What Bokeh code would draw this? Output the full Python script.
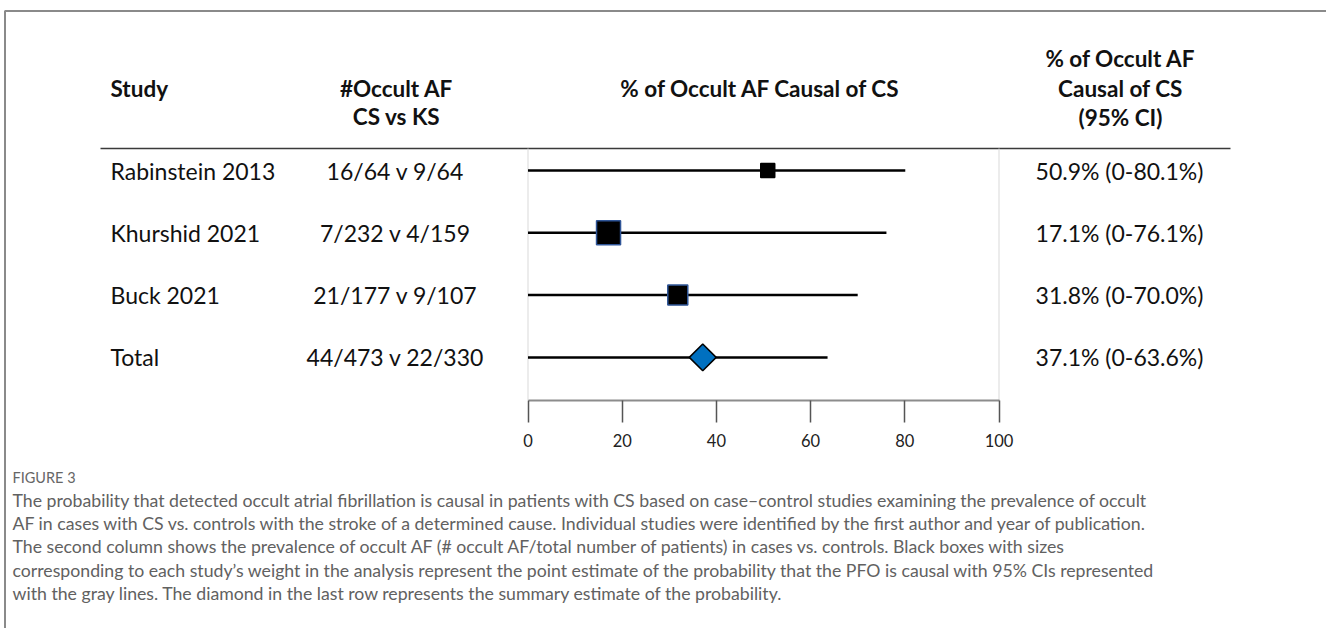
import numpy as np
from bokeh.plotting import figure
from bokeh.models import Range1d, LinearAxis, FixedTicker
from bokeh.core.properties import value
from bokeh.embed import file_html
from bokeh.resources import INLINE

# ---------------- data ----------------
studies = ["Rabinstein 2013", "Khurshid 2021", "Buck 2021", "Total"]
counts = ["16/64 v 9/64", "7/232 v 4/159", "21/177 v 9/107", "44/473 v 22/330"]
estimate = [50.9, 17.1, 31.8, 37.1]
ci_low = [0, 0, 0, 0]
ci_high = [80.1, 76.1, 70.0, 63.6]
tick_values = [0, 20, 40, 60, 80, 100]

header_study = "Study"
header_counts = ["#Occult AF", "CS vs KS"]
header_plot = "% of Occult AF Causal of CS"
header_ci = ["% of Occult AF", "Causal of CS", "(95% CI)"]
fig_label = "FIGURE 3"
caption_lines = [
    "The probability that detected occult atrial fibrillation is causal in patients with CS based on case\u2013control studies examining the prevalence of occult",
    "AF in cases with CS vs. controls with the stroke of a determined cause. Individual studies were identified by the first author and year of publication.",
    "The second column shows the prevalence of occult AF (# occult AF/total number of patients) in cases vs. controls. Black boxes with sizes",
    "corresponding to each study\u2019s weight in the analysis represent the point estimate of the probability that the PFO is causal with 95% CIs represented",
    "with the gray lines. The diamond in the last row represents the summary estimate of the probability.",
]

ci_labels = [f"{e:.1f}% ({l:g}-{h:.1f}%)" for e, l, h in zip(estimate, ci_low, ci_high)]

# ---------------- layout / style ----------------
W, H = 1326, 628
OX, OY = 0, 0
X0_PAGE, X100_PAGE = 527.5, 998.5
ROW0_PAGE, ROW_STEP = 170.0, 62.3
KX = (X100_PAGE - X0_PAGE) / 100.0

def dx(px):
    return (px - X0_PAGE) / KX

def dy(py):
    return (py - ROW0_PAGE) / ROW_STEP

FONT = value("Lato")
TXT = "#111111"
BODY_SIZE = "23px"
HEAD_SIZE = "22.5px"

p = figure(width=W, height=H,
           x_range=Range1d(dx(OX), dx(OX + W)),
           y_range=Range1d(dy(OY + H), dy(OY)),
           x_axis_type=None, y_axis_type=None,
           output_backend="svg", toolbar_location=None,
           min_border=0, outline_line_color=None)
p.background_fill_color = "white"
p.border_fill_color = "white"

rows = list(range(len(studies)))
study_rows = rows[:-1]
total_row = rows[-1]

# outer frame (top and left)
p.segment(x0=[dx(4), dx(4.5)], y0=[dy(10.5), dy(10.5)],
          x1=[dx(OX + W), dx(4.5)], y1=[dy(10.5), dy(OY + H)],
          line_color="#8a8a8a", line_width=2)

# header rule
p.segment(x0=[dx(100)], y0=[dy(148)], x1=[dx(1230)], y1=[dy(148)],
          line_color="#3a3a3a", line_width=1.5)

# light plot-box sides
p.segment(x0=[0, 100], y0=[dy(148), dy(148)], x1=[0, 100], y1=[dy(399.5), dy(399.5)],
          line_color="#d9d9d9", line_width=1)

# confidence intervals
p.segment(x0=ci_low, x1=ci_high, y0=rows, y1=rows, line_color="black", line_width=2.5)

# study boxes
box_sizes = [14, 24, 20]
box_outline = ["black", "#2f5597", "#2f5597"]
p.scatter(x=estimate[:-1], y=study_rows, marker="square", size=box_sizes,
          fill_color="black", line_color=box_outline, line_width=1.5)

# summary diamond
p.scatter(x=[estimate[-1]], y=[total_row], marker="square", angle=np.pi / 4, size=19,
          fill_color="#0070c0", line_color="black", line_width=1.5)

# x axis
ax = LinearAxis(fixed_location=dy(399.5), bounds=(0, 100),
                ticker=FixedTicker(ticks=tick_values))
ax.axis_line_color = "#8c8c8c"
ax.axis_line_width = 2
ax.major_tick_in = 0
ax.major_tick_out = 22
ax.major_tick_line_color = "#555555"
ax.major_tick_line_width = 1.5
ax.minor_tick_line_color = None
ax.major_label_text_font = "Lato"
ax.major_label_text_font_size = "16.5px"
ax.major_label_text_color = "#222222"
ax.major_label_standoff = 12
p.add_layout(ax, "below")

# table text
p.text(x=[dx(110)] * len(studies), y=rows, text=studies, text_font=FONT,
       text_font_size=BODY_SIZE, text_color=TXT, text_align="left", text_baseline="middle")
p.text(x=[dx(395)] * len(counts), y=rows, text=counts, text_font=FONT,
       text_font_size=BODY_SIZE, text_color=TXT, text_align="center", text_baseline="middle")
p.text(x=[dx(1119)] * len(ci_labels), y=rows, text=ci_labels, text_font=FONT,
       text_font_size=BODY_SIZE, text_color=TXT, text_align="center", text_baseline="middle")

# headers
p.text(x=[dx(110)], y=[dy(88)], text=[header_study], text_font=FONT, text_font_style="bold",
       text_font_size=HEAD_SIZE, text_color=TXT, text_align="left", text_baseline="middle")
p.text(x=[dx(396)] * 2, y=[dy(88), dy(116)], text=header_counts, text_font=FONT,
       text_font_style="bold", text_font_size=HEAD_SIZE, text_color=TXT,
       text_align="center", text_baseline="middle")
p.text(x=[dx(760)], y=[dy(88)], text=[header_plot], text_font=FONT, text_font_style="bold",
       text_font_size=HEAD_SIZE, text_color=TXT, text_align="center", text_baseline="middle")
p.text(x=[dx(1120)] * 3, y=[dy(58), dy(88), dy(117)], text=header_ci, text_font=FONT,
       text_font_style="bold", text_font_size=HEAD_SIZE, text_color=TXT,
       text_align="center", text_baseline="middle")

# caption
p.text(x=[dx(12)], y=[dy(477)], text=[fig_label], text_font=FONT, text_font_size="14.5px",
       text_color="#666666", text_align="left", text_baseline="middle")
cap_y = [dy(500 + 23.2 * i) for i in range(len(caption_lines))]
p.text(x=[dx(12)] * len(caption_lines), y=cap_y, text=caption_lines, text_font=FONT,
       text_font_size="17.7px", text_color="#616161", text_align="left", text_baseline="middle")

open("out.html", "w").write(file_html(p, INLINE))
